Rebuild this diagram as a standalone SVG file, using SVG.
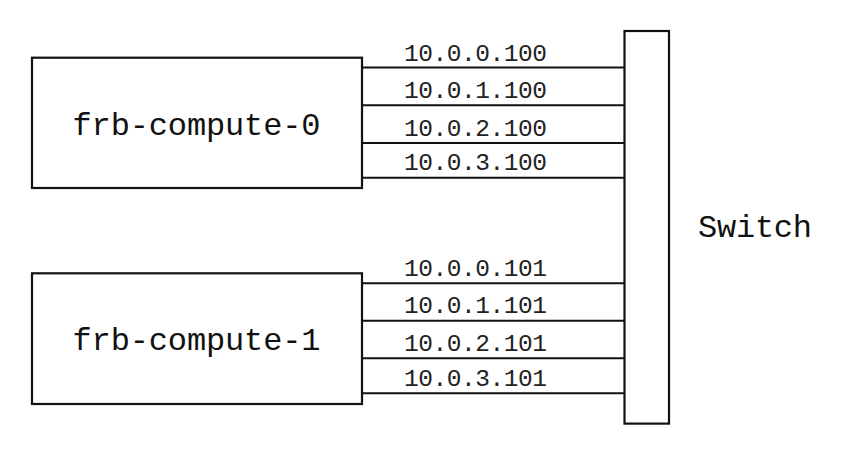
<svg xmlns="http://www.w3.org/2000/svg" width="850" height="449" viewBox="0 0 850 449">
<style>
.box{fill:#fff;stroke:#111;stroke-width:2.2}
.ln{stroke:#111;stroke-width:2}
.nl{font-family:"Liberation Mono","Courier New",monospace;font-size:32px;fill:#111}
.ip{font-family:"Liberation Mono","Courier New",monospace;font-size:24.5px;fill:#222}
</style>
<rect width="850" height="449" fill="#fff"/>
<g id="connectors">
<line class="ln" x1="362" y1="67.5" x2="625" y2="67.5"/>
<line class="ln" x1="362" y1="105.3" x2="625" y2="105.3"/>
<line class="ln" x1="362" y1="143" x2="625" y2="143"/>
<line class="ln" x1="362" y1="177.7" x2="625" y2="177.7"/>
<line class="ln" x1="362" y1="283.3" x2="625" y2="283.3"/>
<line class="ln" x1="362" y1="320.7" x2="625" y2="320.7"/>
<line class="ln" x1="362" y1="358.3" x2="625" y2="358.3"/>
<line class="ln" x1="362" y1="393.3" x2="625" y2="393.3"/>
<text class="ip" x="404" y="60.5" textLength="143">10.0.0.100</text>
<text class="ip" x="404" y="98.3" textLength="143">10.0.1.100</text>
<text class="ip" x="404" y="135.7" textLength="143">10.0.2.100</text>
<text class="ip" x="404" y="170" textLength="143">10.0.3.100</text>
<text class="ip" x="404" y="276" textLength="143">10.0.0.101</text>
<text class="ip" x="404" y="313.3" textLength="143">10.0.1.101</text>
<text class="ip" x="404" y="350.7" textLength="143">10.0.2.101</text>
<text class="ip" x="404" y="386" textLength="143">10.0.3.101</text>
</g>
<g id="frb-compute-0">
<rect class="box" x="32" y="57.7" width="330" height="130.3"/>
<text class="nl" x="72.5" y="135" textLength="248">frb-compute-0</text>
</g>
<g id="frb-compute-1">
<rect class="box" x="32" y="273.3" width="330" height="130.7"/>
<text class="nl" x="72.5" y="350" textLength="248">frb-compute-1</text>
</g>
<g id="switch">
<rect class="box" x="624.5" y="31" width="44.5" height="392.6"/>
<text class="nl" x="698" y="236.7" textLength="114">Switch</text>
</g>
</svg>
